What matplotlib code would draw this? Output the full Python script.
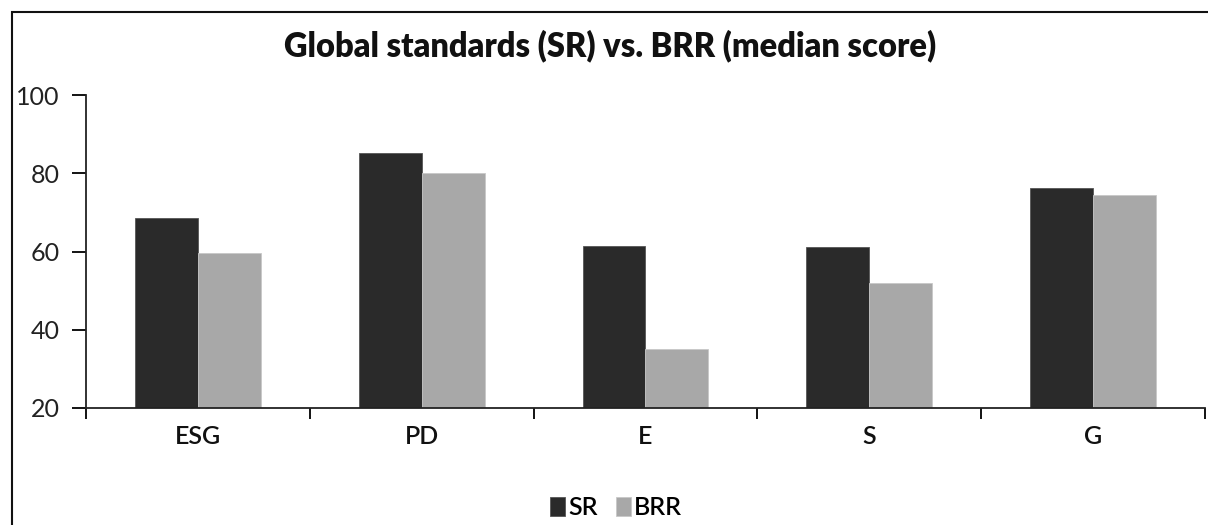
import matplotlib
matplotlib.use('Agg')
import matplotlib.pyplot as plt
import numpy as np
from matplotlib.patches import Rectangle

categories = ['ESG', 'PD', 'E', 'S', 'G']
sr_values = [68.6, 85.1, 61.3, 61.1, 76.2]
brr_values = [59.7, 80.0, 35.1, 52.0, 74.5]
series_names = ['SR', 'BRR']
yticks = [20, 40, 60, 80, 100]

dark = '#2a2a2a'
light = '#a8a8a8'

plt.rcParams['font.family'] = ['Lato', 'DejaVu Sans']

fig = plt.figure(figsize=(12.08, 5.25), dpi=100)
ax = fig.add_axes([0.0712, 0.2229, 0.9263, 0.5961])

x = np.arange(len(categories))
w = 0.281
ax.bar(x - w/2, sr_values, w, bottom=0, color=dark, edgecolor='#555555', linewidth=0.6, label=series_names[0])
ax.bar(x + w/2, brr_values, w, bottom=0, color=light, edgecolor='#c8c8c8', linewidth=0.6, label=series_names[1])

ax.set_xlim(-0.5, len(categories) - 0.5)
ax.set_ylim(20, 100)
ax.set_yticks(yticks)
ax.set_yticklabels([str(v) for v in yticks], fontsize=18, color='#222222')
ax.tick_params(axis='y', direction='out', length=10, width=1.3, pad=9)

ax.set_xticks(x)
ax.set_xticklabels(categories, fontsize=18, fontweight='semibold', color='#111111')
ax.tick_params(axis='x', which='major', length=0, pad=12)
ax.set_xticks(np.arange(-0.5, len(categories)), minor=True)
ax.tick_params(axis='x', which='minor', direction='out', length=8, width=1.3)

for s in ['top', 'right']:
    ax.spines[s].set_visible(False)
for s in ['left', 'bottom']:
    ax.spines[s].set_linewidth(1.3)
    ax.spines[s].set_color('#222222')

fig.text(0.505, 0.913, 'Global standards (SR) vs. BRR (median score)',
         ha='center', va='center', fontsize=23.5, fontweight='heavy', color='#111111')

leg = fig.legend(loc='center', bbox_to_anchor=(0.51, 0.033), ncol=2, frameon=False,
                 prop={'size': 18, 'weight': 'semibold'}, handlelength=0.6, handleheight=0.8,
                 handletextpad=0.15, columnspacing=0.7)

# outer frame of the screenshot
fig.patches.append(Rectangle((12/1208, -0.1), 1.2, 1 - 12/525 + 0.1, transform=fig.transFigure,
                             fill=False, edgecolor='#111111', linewidth=1.5))

fig.savefig('out.png', dpi=100)
